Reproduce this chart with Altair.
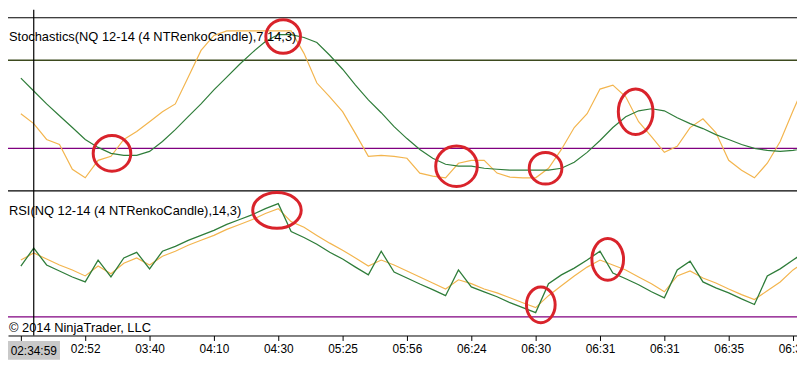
import json
import altair as alt
import pandas as pd

# ---------------- data ----------------
bars = list(range(62))

stoch_d = [67.9, 59.1, 50.3, 42.2, 34.2, 26.1, 20.7, 16.6, 15.3, 15.3,
           18.0, 24.7, 32.8, 41.6, 50.3, 59.8, 68.5, 77.3, 85.4, 92.8,
           97.5, 97.5, 95.5, 92.1, 83.4, 73.9, 63.1, 53.0, 44.3, 34.8,
           26.7, 19.3, 13.3, 9.2, 7.9, 7.9, 6.5, 5.8, 5.2, 5.2,
           5.2, 5.2, 6.5, 10.6, 17.3, 25.4, 34.2, 41.6, 45.6, 47.0,
           45.6, 40.9, 36.9, 33.5, 29.4, 26.1, 22.7, 20.0, 18.7, 18.0,
           18.7, 20.0]
stoch_k = [43.6, 36.9, 26.1, 22.7, 5.8, 0.0, 11.9, 14.6, 26.1, 31.5,
           38.2, 45.0, 50.3, 68.5, 86.7, 96.9, 100, 100, 100, 100,
           100, 100, 84.7, 64.5, 55.1, 45.0, 30.1, 14.6, 15.3, 14.6,
           13.3, 3.2, 1.1, 0.0, 9.9, 11.9, 11.9, 3.2, 0.5, 0.0,
           0.0, 6.5, 19.3, 34.2, 43.6, 60.4, 63.1, 55.1, 38.2, 28.1,
           17.3, 21.4, 34.2, 40.2, 30.8, 11.9, 5.2, 0.0, 9.9, 24.7,
           45.6, 65.8]
rsi_line = [44.4, 49.5, 44.7, 43.0, 41.3, 39.9, 46.1, 41.3, 46.7, 48.3,
            43.6, 48.6, 50.0, 51.7, 53.1, 54.5, 56.2, 57.6, 59.0, 60.7,
            62.1, 54.2, 52.5, 50.6, 48.3, 46.4, 44.1, 41.9, 48.6, 42.7,
            41.0, 39.3, 37.7, 36.0, 43.3, 38.5, 37.1, 35.7, 34.0, 32.6,
            31.2, 39.4, 41.9, 43.8, 46.1, 48.6, 42.4, 40.8, 39.1, 37.1,
            35.4, 43.3, 45.8, 39.9, 38.2, 36.8, 35.1, 33.5, 41.6, 43.6,
            46.1, 48.6]
rsi_avg = [46.1, 48.1, 46.4, 44.7, 43.3, 41.6, 44.4, 42.2, 45.2, 46.7,
           44.7, 47.2, 48.6, 50.3, 51.7, 53.1, 54.8, 56.2, 57.6, 59.3,
           60.7, 57.0, 55.4, 53.1, 50.9, 48.9, 46.7, 44.4, 46.1, 44.7,
           43.0, 41.3, 39.6, 37.9, 40.5, 39.4, 37.9, 36.8, 35.4, 34.0,
           32.6, 36.0, 38.8, 41.6, 44.1, 46.1, 44.7, 43.3, 41.3, 39.4,
           37.1, 41.6, 43.0, 41.0, 39.6, 37.9, 36.3, 34.9, 37.4, 39.9,
           43.3, 45.8]

x_tick_values = [0, 5, 10, 15, 20, 25, 30, 35, 40, 45, 50, 55, 60]
x_tick_labels = ["", "02:52", "03:40", "04:10", "04:30", "05:25", "05:56",
                 "06:24", "06:30", "06:31", "06:31", "06:35", "06:36"]

stoch_upper = [80]
stoch_lower = [20]
rsi_lower = [30]

cursor_bar = [1]
cursor_label = ["02:34:59"]

stoch_title = ["Stochastics(NQ 12-14 (4 NTRenkoCandle),7,14,3)"]
rsi_title = ["RSI(NQ 12-14 (4 NTRenkoCandle),14,3)"]
copyright_text = ["\u00a9 2014 NinjaTrader, LLC"]

# red ellipse annotations (bar position, value, radii in px)
ell_stoch_bar = [7.08, 20.38, 33.85, 40.77, 47.77]
ell_stoch_val = [16.6, 96.2, 7.9, 6.5, 44.9]
ell_stoch_rx = [19, 17.5, 21, 16.5, 17.5]
ell_stoch_ry = [18, 17, 20.5, 16, 23]
ell_rsi_bar = [19.9, 40.4, 45.6]
ell_rsi_val = [60.2, 33.4, 46.3]
ell_rsi_rx = [24.5, 14.5, 16]
ell_rsi_ry = [18, 18, 21]

# ---------------- build ----------------
FONT = "Liberation Sans"
W, H = 797, 321
GREEN = "#2f7d3a"
ORANGE = "#f3b54e"
PURPLE = "#800080"
OLIVE = "#3d4a1e"
RED = "#d9232b"

df = pd.DataFrame({"bar": bars, "sd": stoch_d, "sk": stoch_k,
                   "rl": rsi_line, "ra": rsi_avg})

xscale = alt.Scale(domain=[-1, 60.3077], nice=False, zero=False)
label_expr = json.dumps(x_tick_labels) + "[round(datum.value / 5)]"
xaxis = alt.Axis(values=x_tick_values, labelExpr=label_expr, title=None,
                 grid=False, tickSize=5, tickColor="black", tickWidth=1,
                 domainColor="black", domainWidth=1, labelColor="black",
                 labelFont=FONT, labelFontSize=12, labelPadding=3,
                 labelFlush=False, labelOverlap=False)

stoch_scale = alt.Scale(domain=[0, 100], range=[161.7, 13.3], nice=False, zero=False)
rsi_scale = alt.Scale(domain=[24.7, 65.7], range=[321, 175], nice=False, zero=False)


def X(field):
    return alt.X(field, type="quantitative", scale=xscale, axis=xaxis)


def ellipse_path(rx, ry):
    r = max(rx, ry)
    a, b, k = rx / r, ry / r, 0.5523
    f = lambda v: f"{v:.4f}"
    return (f"M{f(a)},0 C{f(a)},{f(k*b)} {f(k*a)},{f(b)} 0,{f(b)} "
            f"C{f(-k*a)},{f(b)} {f(-a)},{f(k*b)} {f(-a)},0 "
            f"C{f(-a)},{f(-k*b)} {f(-k*a)},{f(-b)} 0,{f(-b)} "
            f"C{f(k*a)},{f(-b)} {f(a)},{f(-k*b)} {f(a)},0 Z")


def ell_df(bs, vs, rxs, rys):
    return pd.DataFrame({
        "bar": bs, "val": vs,
        "shape": [ellipse_path(rx, ry) for rx, ry in zip(rxs, rys)],
        "size": [(2 * max(rx, ry)) ** 2 for rx, ry in zip(rxs, rys)],
    })


base = alt.Chart(df)

# reference levels
up_rule = alt.Chart(pd.DataFrame({"v": stoch_upper})).mark_rule(
    color=OLIVE, strokeWidth=1.6).encode(
    y=alt.Y("v:Q", scale=stoch_scale, axis=None))
lo_rule = alt.Chart(pd.DataFrame({"v": stoch_lower})).mark_rule(
    color=PURPLE, strokeWidth=1.2).encode(
    y=alt.Y("v:Q", scale=stoch_scale, axis=None))
rsi_rule = alt.Chart(pd.DataFrame({"v": rsi_lower})).mark_rule(
    color=PURPLE, strokeWidth=1.2).encode(
    y=alt.Y("v:Q", scale=rsi_scale, axis=None))

# panel separators
sep_df = pd.DataFrame({"k": [0]})
sep_top = alt.Chart(sep_df).mark_rule(color="black", strokeWidth=1.2).encode(
    x=alt.value(-8), x2=alt.value(W), y=alt.value(0))
sep_mid = alt.Chart(sep_df).mark_rule(color="black", strokeWidth=1.2).encode(
    x=alt.value(-8), x2=alt.value(W), y=alt.value(175))

# indicator lines
sk_line = base.mark_line(color=ORANGE, strokeWidth=1.2, clip=True).encode(
    x=X("bar"), y=alt.Y("sk:Q", scale=stoch_scale, axis=None))
sd_line = base.mark_line(color=GREEN, strokeWidth=1.2, clip=True).encode(
    x=X("bar"), y=alt.Y("sd:Q", scale=stoch_scale, axis=None))
ra_line = base.mark_line(color=ORANGE, strokeWidth=1.2, clip=True).encode(
    x=X("bar"), y=alt.Y("ra:Q", scale=rsi_scale, axis=None))
rl_line = base.mark_line(color=GREEN, strokeWidth=1.3, clip=True).encode(
    x=X("bar"), y=alt.Y("rl:Q", scale=rsi_scale, axis=None))

# crosshair
cur_df = pd.DataFrame({"bar": cursor_bar, "label": cursor_label})
cursor = alt.Chart(cur_df).mark_rule(color="black", strokeWidth=1.2).encode(
    x=X("bar"), y=alt.value(-8), y2=alt.value(H))
cur_box = alt.Chart(cur_df).mark_rect(color="#c9c9c9", width=53, height=19).encode(
    x=X("bar"), y=alt.value(336))
cur_text = alt.Chart(cur_df).mark_text(
    font=FONT, fontSize=12, color="black", align="center", baseline="middle").encode(
    x=X("bar"), y=alt.value(336.5), text="label:N")

# panel texts
def label(text_list, y):
    return alt.Chart(pd.DataFrame({"t": text_list})).mark_text(
        font=FONT, fontSize=13, color="black", align="left", baseline="middle").encode(
        x=alt.value(1), y=alt.value(y), text="t:N")

t_stoch = label(stoch_title, 19.5)
t_rsi = label(rsi_title, 195)
t_copy = label(copyright_text, 313.5)

# red ellipses
e_stoch = alt.Chart(ell_df(ell_stoch_bar, ell_stoch_val, ell_stoch_rx, ell_stoch_ry)).mark_point(
    filled=False, color=RED, strokeWidth=3, opacity=1).encode(
    x=X("bar"), y=alt.Y("val:Q", scale=stoch_scale, axis=None),
    shape=alt.Shape("shape:N", scale=None), size=alt.Size("size:Q", scale=None))
e_rsi = alt.Chart(ell_df(ell_rsi_bar, ell_rsi_val, ell_rsi_rx, ell_rsi_ry)).mark_point(
    filled=False, color=RED, strokeWidth=3, opacity=1).encode(
    x=X("bar"), y=alt.Y("val:Q", scale=rsi_scale, axis=None),
    shape=alt.Shape("shape:N", scale=None), size=alt.Size("size:Q", scale=None))

chart = alt.layer(
    up_rule, lo_rule, rsi_rule, sep_top, sep_mid,
    sk_line, sd_line, ra_line, rl_line,
    cursor, cur_box, cur_text,
    t_stoch, t_rsi, t_copy,
    e_stoch, e_rsi,
).resolve_scale(y="independent").properties(
    width=W, height=H,
    autosize=alt.AutoSizeParams(type="none"),
    padding={"left": 0, "top": 8, "right": 0, "bottom": 30},
    background="white",
).configure_view(stroke=None)

chart.save("out.html", embed_options={"renderer": "svg", "actions": False})
